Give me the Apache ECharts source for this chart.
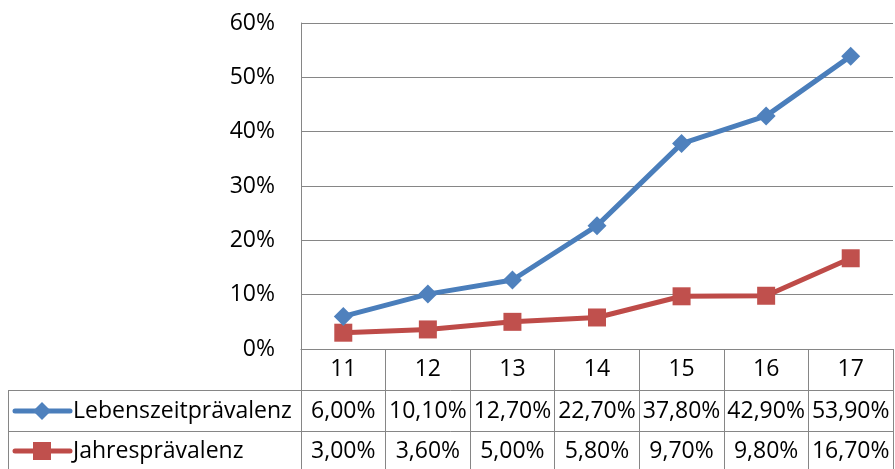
<!DOCTYPE html>
<html>
<head>
<meta charset="utf-8">
<script src="https://cdn.jsdelivr.net/npm/echarts@6/dist/echarts.min.js"></script>
<style>
  html, body { margin: 0; padding: 0; background: #fff; }
  #chart { width: 895px; height: 469px; }
</style>
</head>
<body>
<div id="chart"></div>
<script>
// Age groups (years)
const ages = ['11', '12', '13', '14', '15', '16', '17'];
// Prevalence in percent
const lebenszeit = [6.0, 10.1, 12.7, 22.7, 37.8, 42.9, 53.9];
const jahres = [3.0, 3.6, 5.0, 5.8, 9.7, 9.8, 16.7];
const seriesNames = ['Lebenszeitprävalenz', 'Jahresprävalenz'];
const yTicks = [0, 10, 20, 30, 40, 50, 60];

const FONT = '"Open Sans", "Noto Sans", sans-serif';
const FS = 23;
const GRID_COLOR = '#868686';
const BLUE = '#4A7EBB';
const RED = '#BE4B48';

const fmt = v => v.toFixed(2).replace('.', ',') + '%';

const chart = echarts.init(document.getElementById('chart'), null, { renderer: 'canvas' });

const option = {
  animation: false,
  backgroundColor: '#fff',
  grid: { left: 301, right: 2, top: 23, bottom: 120 },
  xAxis: {
    type: 'category',
    data: ages,
    boundaryGap: true,
    axisLine: { lineStyle: { color: GRID_COLOR, width: 1 } },
    axisTick: { show: true, length: 120, lineStyle: { color: GRID_COLOR, width: 1 } },
    axisLabel: { color: '#000', fontSize: FS, fontFamily: FONT, margin: 9 }
  },
  yAxis: {
    type: 'value',
    min: yTicks[0],
    max: yTicks[yTicks.length - 1],
    interval: 10,
    axisLine: { show: true, lineStyle: { color: GRID_COLOR, width: 1 } },
    axisTick: { show: false },
    splitLine: { lineStyle: { color: GRID_COLOR, width: 1 } },
    axisLabel: { color: '#000', fontSize: FS, fontFamily: FONT, margin: 26, formatter: '{value}%' }
  },
  series: [
    {
      name: seriesNames[0],
      type: 'line',
      data: lebenszeit,
      symbol: 'diamond',
      symbolSize: 19,
      lineStyle: { color: BLUE, width: 5 },
      itemStyle: { color: '#4F81BD' },
      z: 3
    },
    {
      name: seriesNames[1],
      type: 'line',
      data: jahres,
      symbol: 'rect',
      symbolSize: 18,
      lineStyle: { color: RED, width: 5 },
      itemStyle: { color: '#C0504D' },
      z: 2
    }
  ]
};
chart.setOption(option);

// Data table below the plot: one row of values per series under each category column
const rowLines = [390, 431];
const rowCenters = [411, 451];
const tableLeft = 8;
const tableRight = 893;
const colX = ages.map(a => chart.convertToPixel({ xAxisIndex: 0 }, a));
const rows = [
  { name: seriesNames[0], values: lebenszeit, color: BLUE, marker: 'diamond' },
  { name: seriesNames[1], values: jahres, color: RED, marker: 'rect' }
];

const graphics = [];
rowLines.forEach(y => {
  graphics.push({
    type: 'line', silent: true,
    shape: { x1: tableLeft, y1: y + 0.5, x2: tableRight + 0.5, y2: y + 0.5 },
    style: { stroke: GRID_COLOR, lineWidth: 1 }
  });
});
graphics.push({
  type: 'line', silent: true,
  shape: { x1: tableLeft + 0.5, y1: rowLines[0], x2: tableLeft + 0.5, y2: 469 },
  style: { stroke: GRID_COLOR, lineWidth: 1 }
});

rows.forEach((row, r) => {
  const cy = rowCenters[r];
  // legend key: line with marker
  graphics.push({
    type: 'line', silent: true,
    shape: { x1: 15, y1: cy, x2: 70, y2: cy },
    style: { stroke: row.color, lineWidth: 5, lineCap: 'round' }
  });
  if (row.marker === 'diamond') {
    graphics.push({
      type: 'polygon', silent: true,
      shape: { points: [[42, cy - 9], [51, cy], [42, cy + 9], [33, cy]] },
      style: { fill: '#4F81BD' }
    });
  } else {
    graphics.push({
      type: 'rect', silent: true,
      shape: { x: 33, y: cy - 9, width: 18, height: 18 },
      style: { fill: '#C0504D' }
    });
  }
  graphics.push({
    type: 'text', silent: true,
    style: {
      text: row.name, x: 73, y: cy,
      fill: '#000', fontSize: FS, fontFamily: FONT,
      align: 'left', textAlign: 'left', verticalAlign: 'middle', textVerticalAlign: 'middle'
    }
  });
  row.values.forEach((v, i) => {
    graphics.push({
      type: 'text', silent: true,
      style: {
        text: fmt(v), x: colX[i], y: cy,
        fill: '#000', fontSize: FS, fontFamily: FONT,
        align: 'center', textAlign: 'center', verticalAlign: 'middle', textVerticalAlign: 'middle'
      }
    });
  });
});

chart.setOption({ graphic: graphics });
</script>
</body>
</html>
